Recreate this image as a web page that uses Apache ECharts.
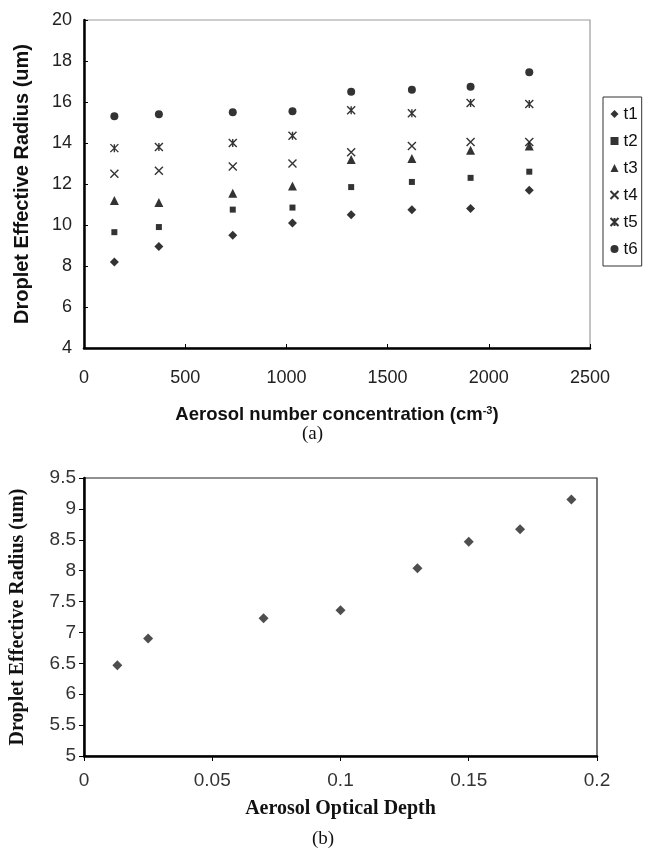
<!DOCTYPE html>
<html><head><meta charset="utf-8">
<script src="https://cdn.jsdelivr.net/npm/echarts@6/dist/echarts.min.js"></script>
<style>html,body{margin:0;padding:0;background:#fff}#c{width:645px;height:852px}</style>
</head><body><div id="c"></div>
<script>
// Panel (a)
var aerosolConc = [150, 370, 735, 1030, 1320, 1620, 1910, 2200];
var t1 = [8.2, 8.95, 9.5, 10.1, 10.5, 10.75, 10.8, 11.7];
var t2 = [9.65, 9.9, 10.75, 10.85, 11.85, 12.1, 12.3, 12.6];
var t3 = [11.2, 11.1, 11.55, 11.9, 13.2, 13.25, 13.65, 13.85];
var t4 = [12.5, 12.65, 12.85, 13.0, 13.55, 13.85, 14.05, 14.05];
var t5 = [13.75, 13.8, 14.0, 14.35, 15.6, 15.45, 15.95, 15.9];
var t6 = [15.3, 15.4, 15.5, 15.55, 16.5, 16.6, 16.75, 17.45];
var seriesNames = ['t1', 't2', 't3', 't4', 't5', 't6'];
// Panel (b)
var aod = [0.013, 0.025, 0.07, 0.1, 0.13, 0.15, 0.17, 0.19];
var radiusB = [6.47, 6.9, 7.23, 7.36, 8.04, 8.47, 8.67, 9.15];

var pairs = function (xs, ys) { return xs.map(function (x, i) { return [x, ys[i]]; }); };
var sans = 'Liberation Sans, Arial, sans-serif';
var serif = 'Liberation Serif, Times New Roman, serif';
var plain = function (v) { return String(v); };

var symA = [
  {symbol: 'diamond', size: 9, style: {color: '#000'}},
  {symbol: 'rect', size: 6, style: {color: '#000'}},
  {symbol: 'triangle', size: 9, style: {color: '#000'}},
  {symbol: 'path://M0,0L10,10M10,0L0,10', size: 8, style: {color: 'none', borderColor: '#000', borderWidth: 1.4}},
  {symbol: 'path://M0,0L10,10M10,0L0,10M5,0L5,10', size: 8, style: {color: 'none', borderColor: '#000', borderWidth: 1.4}},
  {symbol: 'circle', size: 8, style: {color: '#000'}}
];
var dataA = [t1, t2, t3, t4, t5, t6];

var series = dataA.map(function (vals, i) {
  return {
    name: seriesNames[i], type: 'scatter', xAxisIndex: 0, yAxisIndex: 0,
    symbol: symA[i].symbol, symbolSize: symA[i].size, itemStyle: symA[i].style,
    data: pairs(aerosolConc, vals), silent: true
  };
});
series.push({
  name: 'b', type: 'scatter', xAxisIndex: 1, yAxisIndex: 1,
  symbol: 'diamond', symbolSize: 10, itemStyle: {color: '#222'},
  data: pairs(aod, radiusB), silent: true
});

var chart = echarts.init(document.getElementById('c'), null, {renderer: 'canvas'});
chart.setOption({
  animation: false,
  backgroundColor: '#fff',
  grid: [
    {left: 84, top: 20, width: 506, height: 328, show: true, borderColor: '#9a9a9a', borderWidth: 1.2},
    {left: 81, top: 478, width: 516, height: 278, show: true, borderColor: '#222', borderWidth: 1.2}
  ],
  legend: {
    data: seriesNames, orient: 'vertical', left: 603, top: 97,
    itemWidth: 8, itemHeight: 8, itemGap: 9, padding: [8, 4, 8, 5],
    borderColor: '#333', borderWidth: 1,
    textStyle: {fontFamily: sans, fontSize: 17, color: '#111', lineHeight: 18},
    selectedMode: false
  },
  xAxis: [
    {
      gridIndex: 0, type: 'value', min: 0, max: 2500, interval: 500,
      name: 'Aerosol number concentration (cm{sup|-3})', nameLocation: 'middle', nameGap: 57,
      nameTextStyle: {fontFamily: sans, fontSize: 18.5, fontWeight: 'bold', color: '#111',
        rich: {sup: {fontFamily: sans, fontSize: 11, fontWeight: 'bold', color: '#111', verticalAlign: 'top', padding: [0, 0, 9, 0]}}},
      axisLine: {lineStyle: {color: '#000', width: 2.5}},
      axisTick: {inside: true, length: 4, lineStyle: {color: '#000', width: 1}},
      axisLabel: {fontFamily: sans, fontSize: 18, color: '#222', margin: 21, formatter: plain},
      splitLine: {show: false}
    },
    {
      gridIndex: 1, type: 'value', min: 0, max: 0.2, interval: 0.05,
      name: 'Aerosol Optical Depth', nameLocation: 'middle', nameGap: 43,
      nameTextStyle: {fontFamily: serif, fontSize: 20, fontWeight: 'bold', color: '#111'},
      axisLine: {lineStyle: {color: '#000', width: 2.5}},
      axisTick: {length: 5, lineStyle: {color: '#000', width: 1}},
      axisLabel: {fontFamily: sans, fontSize: 19, color: '#333', margin: 15, formatter: plain},
      splitLine: {show: false}
    }
  ],
  yAxis: [
    {
      gridIndex: 0, type: 'value', min: 4, max: 20, interval: 2,
      name: 'Droplet Effective Radius (um)', nameLocation: 'middle', nameGap: 52,
      nameTextStyle: {fontFamily: sans, fontSize: 20, fontWeight: 'bold', color: '#111'},
      axisLine: {lineStyle: {color: '#000', width: 2.5}},
      axisTick: {inside: true, length: 4, lineStyle: {color: '#000', width: 1}},
      axisLabel: {fontFamily: sans, fontSize: 18, color: '#222', margin: 12},
      splitLine: {show: false}
    },
    {
      gridIndex: 1, type: 'value', min: 5, max: 9.5, interval: 0.5,
      name: 'Droplet Effective Radius (um)', nameLocation: 'middle', nameGap: 56,
      nameTextStyle: {fontFamily: serif, fontSize: 20, fontWeight: 'bold', color: '#111'},
      axisLine: {lineStyle: {color: '#000', width: 2.5}},
      axisTick: {length: 5, lineStyle: {color: '#000', width: 1}},
      axisLabel: {fontFamily: sans, fontSize: 19, color: '#333', margin: 8},
      splitLine: {show: false}
    }
  ],
  graphic: [
    {type: 'text', left: 302, top: 425, style: {text: '(a)', font: '19px ' + serif, fill: '#111'}},
    {type: 'text', left: 312, top: 830, style: {text: '(b)', font: '19px ' + serif, fill: '#111'}}
  ],
  series: series
});
</script></body></html>
